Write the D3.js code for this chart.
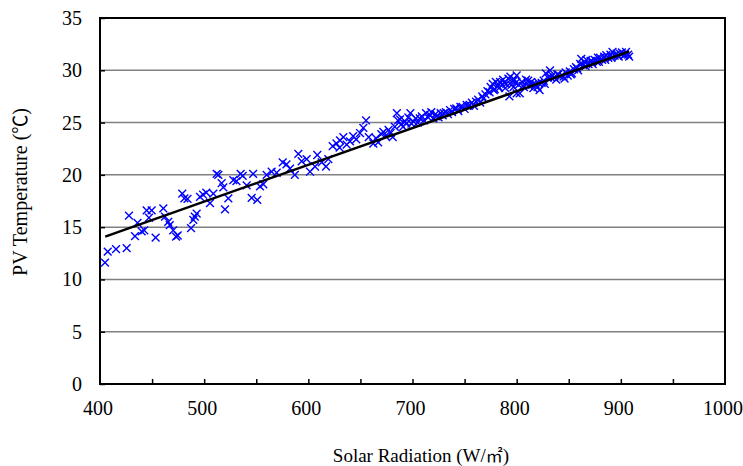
<!DOCTYPE html>
<meta charset="utf-8">
<style>
  html, body { margin: 0; padding: 0; background: #fff; }
  svg { display: block; }
  text { font-family: "Liberation Serif", "Times New Roman", serif; fill: #000; }
  .cjk { font-family: "Noto Sans CJK SC", "Noto Sans CJK JP", sans-serif; }
  .grid line { stroke: #808080; stroke-width: 1.5px; }
</style>
<svg id="chart" width="743" height="466"></svg>
<script src="https://cdn.jsdelivr.net/npm/d3@7/dist/d3.min.js"></script>
<script>

  // solar radiation (W/m2) of each measured point
  const radiation = [
    404.8, 407.4, 415.4, 425.6, 427.8, 433.6, 436, 440, 442.5, 444.8, 447, 449.6, 453.4,
    460.8, 462.4, 465.5, 467, 470.3, 473, 474.6, 479, 481, 484, 487.4, 489.6, 491, 492.8,
    496, 499, 502, 505.6, 508.8, 512, 513.6, 516.8, 518.4, 520, 523.2, 528, 531, 535, 537,
    540.8, 545.6, 551, 547, 553.6, 556.8, 560, 564.8, 569.6, 575.4, 579, 582.4, 587, 590.4,
    593.6, 598.4, 601.6, 606.4, 608.6, 612.8, 617, 619.2, 623.4, 627, 630.4, 633.6, 630,
    636.8, 640, 643, 646, 649.6, 652.8, 655.4, 658, 662.4,
    665, 667, 670, 672, 674, 677, 679, 681, 683, 685, 686, 688, 689, 691, 693, 694, 696,
    698, 699, 701, 703, 705, 707, 709, 711, 713, 715, 717, 718, 720, 722, 723, 725, 727,
    729, 730, 732, 734, 736, 738, 740, 742, 744, 746, 748, 750, 752, 754, 755, 757, 759,
    761, 763, 765, 767, 768, 770, 772, 774, 775, 777, 779, 780, 782, 784, 786, 787, 789,
    790, 792, 793, 794, 796, 797, 799, 800, 800, 802, 803, 805, 807, 809, 810, 812, 814,
    816, 818, 820, 822, 824, 826, 828, 830, 832, 834, 836, 838, 840, 842, 845, 847, 849,
    851, 853, 855, 857, 859, 861, 862, 864, 865, 867, 869, 871, 873, 875, 877, 878, 880,
    882, 884, 886, 888, 890, 892, 894, 896, 898, 899, 901, 903, 905, 907, 908,
    778, 783, 788, 795, 798, 806, 811, 815, 821, 827, 833, 839, 846, 852, 858, 866, 872, 879, 885, 891, 897, 904
  ];

  // PV module temperature (deg C) of each measured point
  const temperature = [
    11.6, 12.65, 12.9, 13.0, 16.1, 14.15, 15.4, 14.6, 14.7, 16.6, 15.9, 16.6, 14.0,
    16.8, 16.0, 15.5, 15.2, 14.7, 14.1, 14.2, 18.2, 17.75, 17.7, 14.9, 15.7, 16.0, 16.3,
    17.9, 18.1, 18.3, 17.3, 18.2, 20.1, 20.0, 19.2, 18.8, 16.7, 17.75, 19.5, 19.4, 20.1, 19.9,
    19.0, 17.8, 17.6, 20.1, 18.9, 19.1, 20.0, 20.3, 20.2, 21.2, 21.0, 20.6, 20.0, 22.0,
    21.3, 21.5, 20.3, 20.8, 21.9, 21.2, 20.8, 21.5, 22.75, 23.0, 23.3, 23.6, 22.6,
    22.9, 23.2, 23.7, 23.4, 24.0, 24.5, 25.2, 23.6, 23.0,
    23.5, 23.1, 23.9, 24.1, 23.7, 24.3, 24.0, 23.6, 24.6, 25.9, 25.2, 25.3, 24.8, 24.6, 25.1, 24.9, 25.5,
    25.9, 24.9, 25.1, 25.4, 25.0, 25.4, 25.6, 25.2, 25.9, 25.5, 25.7, 26.0, 25.4, 25.8, 25.6, 25.5, 25.9,
    25.7, 25.9, 26.0, 25.8, 26.2, 26.0, 26.3, 26.35, 26.1, 26.5, 26.5, 26.3, 26.7, 26.6, 26.7, 26.9, 26.6,
    27.0, 27.2, 26.9, 27.5, 27.3, 27.7, 28.0, 27.9, 28.4, 28.7, 28.2, 28.9, 28.5, 28.9, 28.6, 29.1, 28.3,
    28.7, 29.2, 27.5, 29.4, 29.0, 28.4, 28.8, 29.5, 27.8, 28.6, 27.8, 28.9, 28.4, 29.1, 28.7, 28.5, 28.9,
    28.3, 28.7, 28.4, 28.1, 28.8, 29.0, 29.7, 29.3, 30.0, 29.5, 29.3, 29.1, 29.6, 29.4, 29.4, 29.8, 29.5,
    29.9, 29.7, 30.1, 30.3, 30.0, 30.6, 31.1, 30.5, 30.8, 31.0, 30.6, 30.9, 30.6, 31.0, 30.8, 31.2, 31.2,
    31.0, 31.3, 31.45, 31.2, 31.5, 31.75, 31.4, 31.6, 31.3, 31.6, 31.7, 31.4, 31.75, 31.5, 31.3,
    28.1, 28.3, 28.8, 28.6, 29.1, 28.5, 29.0, 28.6, 28.8, 28.7, 29.3, 29.6, 29.2, 29.6, 30.2, 30.4, 30.9, 30.8, 31.0, 31.2, 31.4, 31.5
  ];

  // fitted trend line (start / end)
  const trendX = [405, 908];
  const trendY = [14.1, 31.8];

  const xTicks = [400, 500, 600, 700, 800, 900, 1000];
  const yTicks = [0, 5, 10, 15, 20, 25, 30, 35];

  const svg = d3.select("#chart");
  const plotL = 100, plotR = 725, plotT = 18, plotB = 384;

  const x = d3.scaleLinear().domain([400, 1000]).range([plotL, plotR]);
  const y = d3.scaleLinear().domain([0, 35]).range([plotB, plotT]);

  // gridlines
  svg.append("g").attr("class", "grid")
    .selectAll("line").data(yTicks.filter(d => d > 0 && d < 35)).join("line")
    .attr("x1", plotL).attr("x2", plotR)
    .attr("y1", d => y(d)).attr("y2", d => y(d));

  // y axis: ticks inward, labels on the left
  const yAxis = svg.append("g")
    .attr("transform", `translate(${plotL},0)`)
    .call(d3.axisRight(y).tickValues(yTicks).tickSize(5).tickFormat(""));
  yAxis.select(".domain").remove();
  yAxis.selectAll("line").attr("stroke", "#000").attr("stroke-width", 1.5);

  svg.append("g").selectAll("text").data(yTicks).join("text")
    .attr("x", plotL - 18).attr("y", d => y(d)).attr("dy", "0.35em")
    .attr("text-anchor", "end").attr("font-size", 20)
    .text(d => d);

  // x axis: ticks every 50 pointing up
  const xAxis = svg.append("g")
    .attr("transform", `translate(0,${plotB})`)
    .call(d3.axisTop(x).tickValues(d3.range(450, 1000, 50)).tickSize(5).tickFormat(""));
  xAxis.select(".domain").remove();
  xAxis.selectAll("line").attr("stroke", "#000").attr("stroke-width", 1.5);

  svg.append("g").selectAll("text").data(xTicks).join("text")
    .attr("x", d => x(d) - 2).attr("y", plotB + 24).attr("dy", "0.35em")
    .attr("text-anchor", "middle").attr("font-size", 20)
    .text(d => d);

  // frame
  svg.append("rect")
    .attr("x", plotL).attr("y", plotT)
    .attr("width", plotR - plotL).attr("height", plotB - plotT)
    .attr("fill", "none").attr("stroke", "#000").attr("stroke-width", 2);

  // scatter markers (x crosses)
  const s = 3.9;
  svg.append("g")
    .selectAll("path").data(radiation.map((r, i) => [r, temperature[i]])).join("path")
    .attr("d", d => {
      const cx = x(d[0]), cy = y(d[1]);
      return `M${cx - s},${cy - s}L${cx + s},${cy + s}M${cx - s},${cy + s}L${cx + s},${cy - s}`;
    })
    .attr("stroke", "#0000ff").attr("stroke-width", 1.4).attr("fill", "none");

  // trend line
  svg.append("path")
    .datum(trendX.map((r, i) => [r, trendY[i]]))
    .attr("d", d3.line().x(d => x(d[0])).y(d => y(d[1])))
    .attr("stroke", "#000").attr("stroke-width", 2.5).attr("fill", "none");

  // axis titles
  const yTitle = svg.append("text")
    .attr("transform", `translate(27,192) rotate(-90)`)
    .attr("text-anchor", "middle").attr("font-size", 20);
  yTitle.append("tspan").text("PV Temperature (");
  yTitle.append("tspan").attr("class", "cjk").attr("font-size", 19).text("℃");
  yTitle.append("tspan").text(")");

  const xTitle = svg.append("text")
    .attr("x", 421).attr("y", 462)
    .attr("text-anchor", "middle").attr("font-size", 19);
  xTitle.append("tspan").text("Solar Radiation (W/");
  xTitle.append("tspan").attr("class", "cjk").attr("font-size", 17).text("㎡");
  xTitle.append("tspan").text(")");

</script>
